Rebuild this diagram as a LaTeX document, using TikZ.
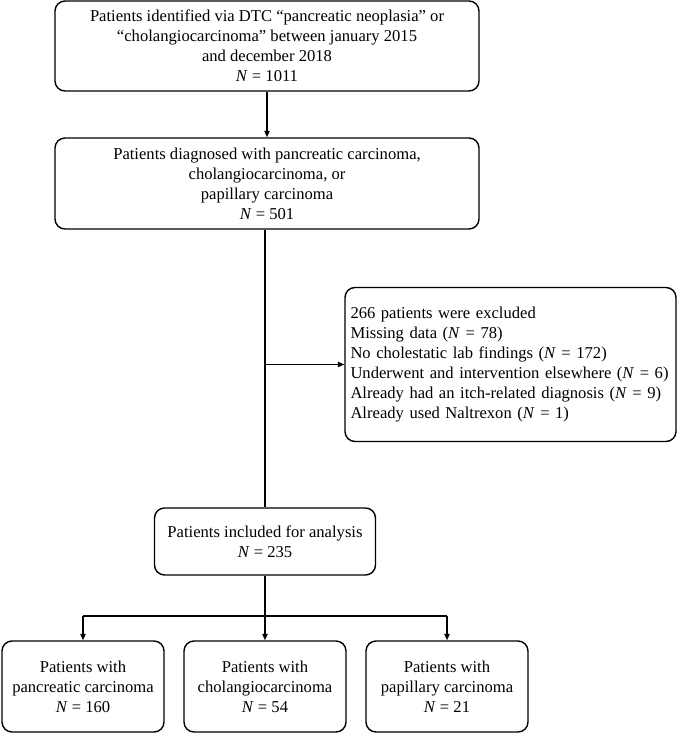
\documentclass[tikz,border=0pt]{standalone}
\usepackage{fontspec}
\setmainfont{Liberation Serif}
\usetikzlibrary{arrows.meta, positioning}

\begin{document}
\begin{tikzpicture}[x=0.5pt, y=-0.5pt,
    box/.style={draw, rounded corners=5pt, line width=0.7pt, align=center, inner sep=0pt, font=\fontsize{8.3}{10}\selectfont},
    arr/.style={-{Triangle[length=3.2pt, width=2.6pt]}, line width=0.7pt}]
    \useasboundingbox (0,0) rectangle (676,734);

    \node[box, minimum width=212pt, minimum height=45pt] (ident) at (267,46)
        {Patients identified via DTC “pancreatic neoplasia” or\\ “cholangiocarcinoma” between january 2015\\ and december 2018\\ \textit{N} = 1011};
    \node[box, minimum width=212pt, minimum height=45.5pt] (diag) at (267,183.5)
        {Patients diagnosed with pancreatic carcinoma,\\ cholangiocarcinoma, or\\ papillary carcinoma\\ \textit{N} = 501};
    \node[box, align=left, text width=160pt, inner xsep=2.75pt, minimum height=77pt] (excl) at (510.5,364.5)
        {266 patients were excluded\\ Missing data (\textit{N} = 78)\\ No cholestatic lab findings (\textit{N} = 172)\\ Underwent and intervention elsewhere (\textit{N} = 6)\\ Already had an itch-related diagnosis (\textit{N} = 9)\\ Already used Naltrexon (\textit{N} = 1)};
    \node[box, minimum width=110.5pt, minimum height=33.5pt] (incl) at (265,541.5)
        {Patients included for analysis\\ \textit{N} = 235};

    \node[box, minimum width=81pt, minimum height=45.5pt] (pc) at (83,686.5)
        {Patients with\\ pancreatic carcinoma\\ \textit{N} = 160};
    \node[box, minimum width=81pt, minimum height=45.5pt] (cc) at (265,686.5)
        {Patients with\\ cholangiocarcinoma\\ \textit{N} = 54};
    \node[box, minimum width=81pt, minimum height=45.5pt] (pap) at (447,686.5)
        {Patients with\\ papillary carcinoma\\ \textit{N} = 21};

    \coordinate (split) at (265,616);

    % main flow
    \draw[arr] (ident.south) -- (diag.north);
    \draw[line width=0.7pt] (diag.south -| incl.north) -- (incl.north);
    \draw[arr] (incl.north |- excl.west) -- (excl.west);

    % split into groups
    \draw[line width=0.7pt] (incl.south) -- (split);
    \draw[line width=0.7pt] (split -| pc.north) -- (split -| pap.north);
    \draw[arr] (split -| pc.north) -- (pc.north);
    \draw[arr] (split) -- (cc.north);
    \draw[arr] (split -| pap.north) -- (pap.north);
\end{tikzpicture}
\end{document}
